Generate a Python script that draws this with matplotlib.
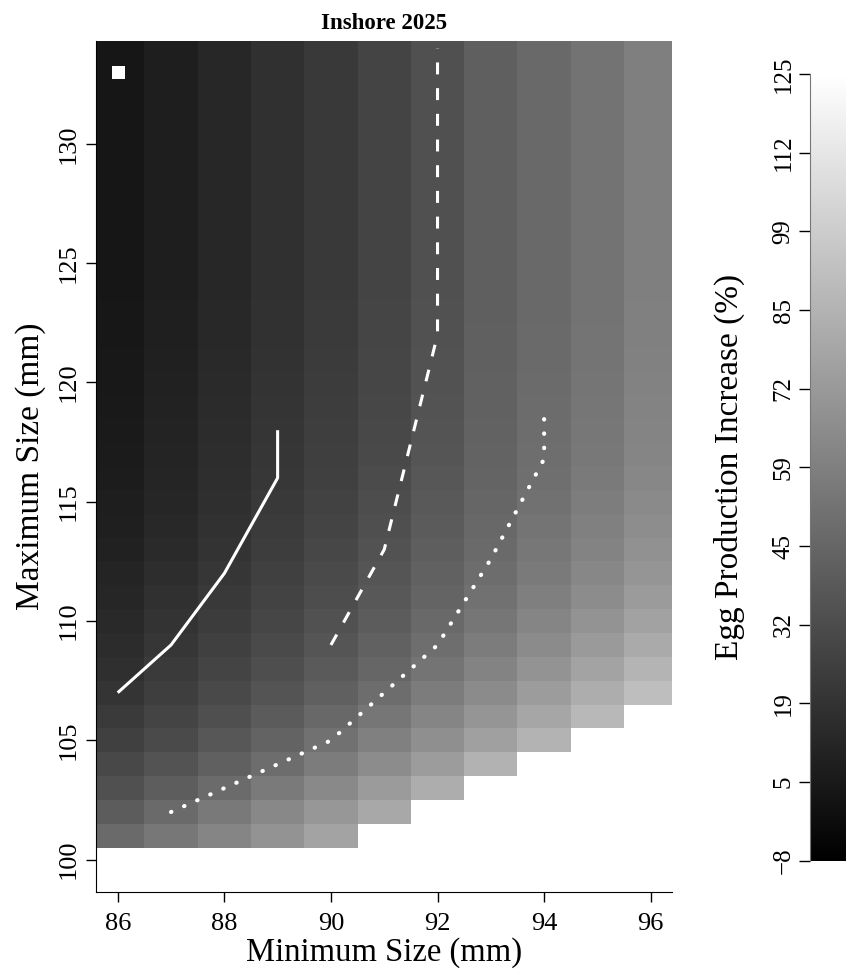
import numpy as np
import matplotlib
matplotlib.use("Agg")
import matplotlib.pyplot as plt

plt.rcParams['font.family'] = ['Liberation Serif', 'DejaVu Serif']
plt.rcParams['lines.scale_dashes'] = False

# Grid of size limits (mm)
min_size = [86, 87, 88, 89, 90, 91, 92, 93, 94, 95, 96]
max_size = list(range(134, 100, -1))   # 134 down to 101

# Egg production increase (%), rows from max 134 down to 101
nan = np.nan
increase = [
    [3.4, 7.6, 12.3, 17.0, 21.7, 27.5, 33.8, 41.6, 46.9, 52.1, 58.4],  # 134
    [3.4, 7.6, 12.3, 17.0, 21.7, 27.5, 33.8, 41.6, 46.9, 52.1, 58.4],  # 133
    [3.4, 7.6, 12.3, 17.0, 21.7, 27.5, 33.8, 41.6, 46.9, 52.1, 58.4],  # 132
    [3.4, 7.6, 12.3, 17.0, 21.7, 27.5, 33.8, 41.6, 46.9, 52.1, 58.4],  # 131
    [3.4, 7.6, 12.3, 17.0, 21.7, 27.5, 33.8, 41.6, 46.9, 52.1, 58.4],  # 130
    [3.4, 7.6, 12.3, 17.0, 21.7, 27.5, 33.8, 41.6, 46.9, 52.1, 58.4],  # 129
    [3.4, 7.6, 12.3, 17.0, 21.7, 27.5, 33.8, 41.6, 46.9, 52.1, 58.4],  # 128
    [3.4, 7.6, 12.3, 17.0, 21.7, 27.5, 33.8, 41.6, 46.9, 52.1, 58.4],  # 127
    [3.4, 7.6, 12.3, 17.0, 21.7, 27.5, 33.8, 41.6, 46.9, 52.1, 58.4],  # 126
    [3.4, 7.6, 12.3, 17.0, 21.7, 27.5, 33.8, 41.6, 46.9, 52.1, 58.4],  # 125
    [3.4, 7.6, 12.3, 17.0, 21.7, 27.5, 33.8, 41.6, 46.9, 52.1, 58.4],  # 124
    [3.9, 8.1, 12.8, 17.6, 22.3, 28.0, 34.3, 41.6, 46.9, 52.1, 58.9],  # 123
    [3.9, 8.1, 12.8, 17.6, 22.3, 28.0, 34.3, 42.2, 47.4, 52.6, 58.9],  # 122
    [4.5, 8.7, 13.4, 18.1, 22.8, 28.5, 34.8, 42.2, 47.4, 52.6, 59.4],  # 121
    [4.5, 9.2, 13.9, 18.6, 23.3, 28.5, 34.8, 42.7, 47.9, 53.1, 60.0],  # 120
    [5.0, 9.7, 14.4, 19.1, 23.8, 29.1, 35.4, 42.7, 48.4, 53.7, 60.5],  # 119
    [5.5, 10.2, 14.9, 19.6, 24.4, 29.6, 35.9, 43.2, 49.0, 54.2, 61.0],  # 118
    [6.0, 10.7, 15.5, 20.2, 24.9, 30.1, 36.4, 43.7, 49.5, 54.7, 61.5],  # 117
    [6.6, 11.3, 16.0, 20.7, 25.4, 31.2, 37.4, 44.3, 50.0, 55.8, 62.6],  # 116
    [7.6, 11.8, 16.5, 21.7, 26.5, 32.2, 38.5, 45.3, 51.1, 57.3, 64.1],  # 115
    [8.1, 12.8, 17.6, 22.8, 27.5, 33.3, 39.5, 46.3, 52.6, 58.9, 65.7],  # 114
    [9.2, 13.9, 18.6, 23.8, 29.1, 34.8, 41.1, 47.4, 54.2, 60.5, 67.8],  # 113
    [10.7, 15.5, 20.2, 25.4, 30.6, 36.4, 42.7, 49.0, 55.8, 62.6, 69.9],  # 112
    [11.8, 17.0, 21.7, 27.0, 32.2, 38.0, 44.3, 51.1, 58.4, 65.2, 73.0],  # 111
    [13.4, 18.6, 23.3, 28.5, 34.3, 40.1, 46.9, 53.7, 61.5, 68.9, 76.7],  # 110
    [14.9, 20.2, 25.4, 30.6, 36.4, 42.7, 49.5, 56.8, 64.7, 72.5, 80.9],  # 109
    [16.5, 22.3, 27.5, 32.7, 39.0, 45.3, 52.6, 60.5, 68.9, 77.2, 86.1],  # 108
    [19.1, 24.4, 30.1, 35.9, 42.2, 49.0, 56.8, 64.7, 73.6, 82.5, 91.4],  # 107
    [22.3, 27.5, 33.3, 39.5, 46.3, 53.7, 61.5, 69.9, 78.8, 88.2, nan],  # 106
    [25.4, 30.6, 37.4, 43.7, 51.1, 58.9, 66.8, 75.7, 85.6, nan, nan],  # 105
    [29.6, 35.4, 42.2, 49.0, 56.8, 65.2, 73.6, 85.1, nan, nan, nan],  # 104
    [33.8, 40.6, 47.9, 55.8, 63.6, 73.0, 82.5, nan, nan, nan, nan],  # 103
    [40.1, 47.4, 55.2, 63.1, 70.9, 79.8, nan, nan, nan, nan, nan],  # 102
    [47.4, 54.2, 61.5, 68.9, 77.2, nan, nan, nan, nan, nan, nan],  # 101
]

# Lines through min/max combinations
solid_x = [86, 87, 88, 89, 89]
solid_y = [107, 109, 112, 116, 118]
dashed_x = [90, 91, 92, 92]
dashed_y = [109, 113, 122, 134]
dotted_x = [87, 88, 89, 90, 91, 92, 93, 94, 94]
dotted_y = [102, 103, 104, 105, 107, 109, 112.6, 116.8, 119]

# current limits marker
current_min = 86
current_max = 133

cbar_min, cbar_max = -8.1, 125.4
cbar_labels = ['\u22128', '5', '19', '32', '45', '59', '72', '85', '99', '112', '125']

fig = plt.figure(figsize=(8.46, 9.77), dpi=100)
ax = fig.add_axes([0.1135, 0.0873, 0.6809, 0.8707])

z = np.array(increase, dtype=float)[::-1]
mesh = ax.pcolormesh(min_size, max_size[::-1], z, cmap='gray',
                     vmin=cbar_min, vmax=cbar_max, shading='nearest')

ax.plot(solid_x, solid_y, color='white', lw=2.2, solid_capstyle='butt')
ax.plot(dashed_x, dashed_y, color='white', lw=2.2, dashes=(8.6, 9.9))
ax.plot(dotted_x, dotted_y, color='white', lw=3.0, dashes=(0.3, 10.0),
        dash_capstyle='round')
ax.plot([current_min], [current_max], marker='s', ms=10.5, mfc='white',
        mec='black', mew=0.6, ls='none')

ax.set_xlim(85.593, 96.40)
ax.set_ylim(98.66, 134.31)
ax.spines['top'].set_visible(False)
ax.spines['right'].set_visible(False)
ax.set_xticks([86, 88, 90, 92, 94, 96])
ax.set_yticks([100, 105, 110, 115, 120, 125, 130])
ax.tick_params(axis='both', direction='out', length=7, width=1, labelsize=19)
ax.tick_params(axis='x', pad=8)
ax.tick_params(axis='y', pad=5)
for lab in ax.get_yticklabels():
    lab.set_rotation(90)
    lab.set_va('center')

ax.set_xlabel('Minimum Size (mm)', fontsize=23.5, labelpad=2)
ax.set_ylabel('Maximum Size (mm)', fontsize=24, labelpad=8)
ax.set_title('Inshore 2025', fontsize=16.5, fontweight='bold', pad=9)

cax = fig.add_axes([0.9574, 0.1190, 0.06, 0.8052])
cb = fig.colorbar(mesh, cax=cax)
cb.outline.set_visible(False)
cax.spines['left'].set_visible(True)
cax.spines['left'].set_color('#777777')
cax.yaxis.set_ticks_position('left')
cax.yaxis.set_label_position('left')
cb.set_ticks(np.linspace(cbar_min, cbar_max, len(cbar_labels)))
cb.set_ticklabels(cbar_labels)
cax.tick_params(axis='y', direction='out', length=8, width=1, labelsize=18, pad=3)
for lab in cax.get_yticklabels():
    lab.set_rotation(90)
    lab.set_va('center')
cb.set_label('Egg Production Increase (%)', fontsize=24, labelpad=20)

fig.savefig('out.png', dpi=100)
